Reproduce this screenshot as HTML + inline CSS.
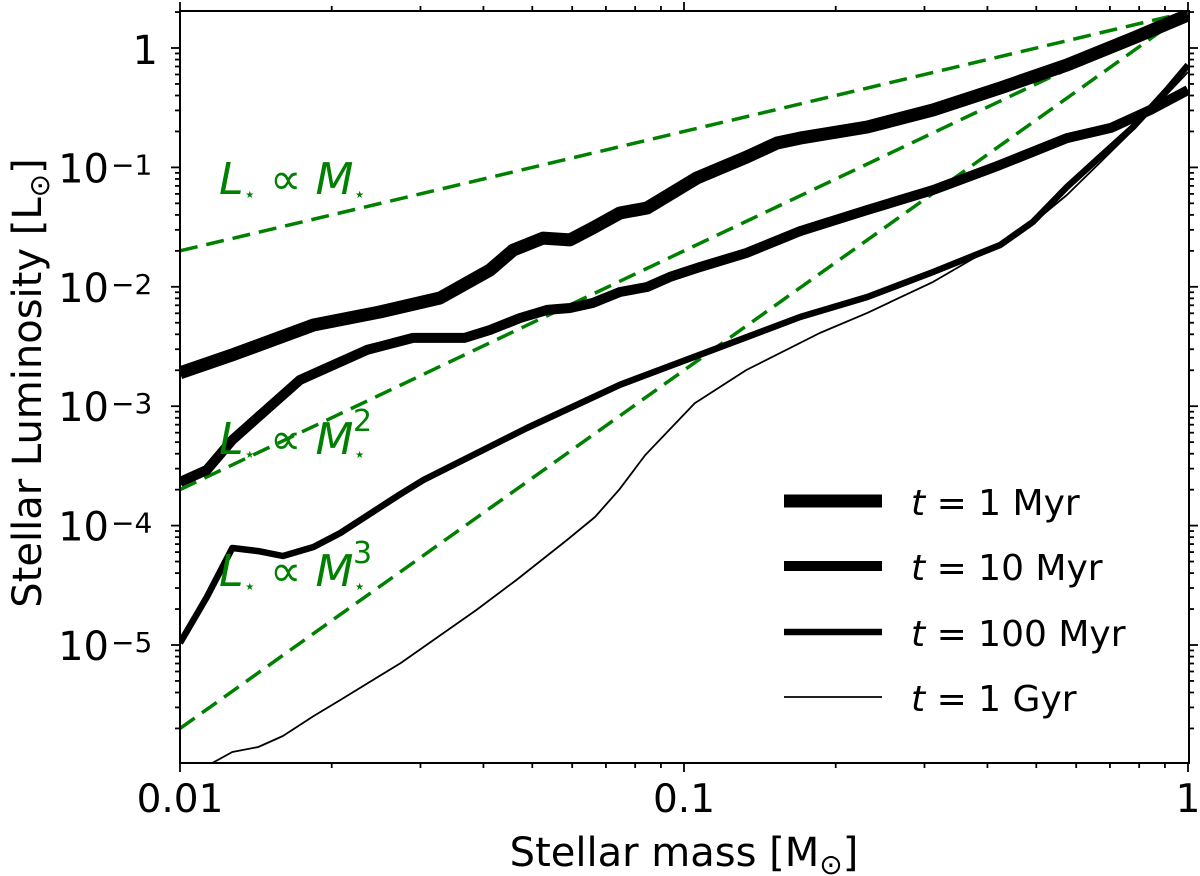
<!DOCTYPE html>
<html><head><meta charset="utf-8"><style>
html,body{margin:0;padding:0;background:#fff}
svg{display:block;font-family:"DejaVu Sans","Liberation Sans",sans-serif}
</style></head><body>
<svg id="chart" width="1200" height="876" viewBox="0 0 1200 876">
<defs><clipPath id="plotclip"><rect x="180" y="11" width="1009" height="752"/></clipPath></defs>
<g id="series" clip-path="url(#plotclip)"></g>
<g id="axes"></g>
<text x="684" y="866" font-size="40" text-anchor="middle">Stellar mass [M<tspan font-size="28" dy="8">⊙</tspan><tspan dy="-8">]</tspan></text>
<text transform="translate(41,383) rotate(-90)" font-size="40" text-anchor="middle">Stellar Luminosity [L<tspan font-size="28" dy="8">⊙</tspan><tspan dy="-8">]</tspan></text>
<g fill="#008000" font-size="44">
<text x="219" y="194"><tspan font-style="italic">L</tspan><tspan font-size="20" dy="7">⋆</tspan><tspan dy="-7"> ∝ </tspan><tspan font-style="italic">M</tspan><tspan font-size="20" dy="7">⋆</tspan></text>
<text x="219" y="454"><tspan font-style="italic">L</tspan><tspan font-size="20" dy="7">⋆</tspan><tspan dy="-7"> ∝ </tspan><tspan font-style="italic">M</tspan><tspan font-size="20" dy="7">⋆</tspan><tspan font-size="30" dx="-13" dy="-30">2</tspan></text>
<text x="219" y="586"><tspan font-style="italic">L</tspan><tspan font-size="20" dy="7">⋆</tspan><tspan dy="-7"> ∝ </tspan><tspan font-style="italic">M</tspan><tspan font-size="20" dy="7">⋆</tspan><tspan font-size="30" dx="-13" dy="-30">3</tspan></text>
</g>
<g id="legend"></g>
</svg>
<script>
const xTicks = [0.01, 0.1, 1];
const xTickLabels = ["0.01", "0.1", "1"];
const yTickExps = [0, -1, -2, -3, -4, -5];
const powerLawSlopes = [1, 2, 3];
const powerLawNorm = 2;
const seriesNames = ["t = 1 Myr", "t = 10 Myr", "t = 100 Myr", "t = 1 Gyr"];
const mass1Myr = [0.01,0.0127,0.0184,0.0249,0.0328,0.0412,0.0458,0.0525,0.0594,0.0659,0.0746,0.0845,0.106,0.133,0.153,0.170,0.231,0.312,0.424,0.575,0.778,1.0];
const lum1Myr = [1.90e-3,2.69e-3,4.79e-3,6.15e-3,8.05e-3,1.38e-2,2.03e-2,2.56e-2,2.47e-2,3.11e-2,4.15e-2,4.57e-2,8.15e-2,0.122,0.160,0.176,0.218,0.303,0.462,0.721,1.21,1.89];
const mass10Myr = [0.01,0.0113,0.0127,0.0173,0.0235,0.0290,0.0367,0.0412,0.0473,0.0535,0.0594,0.0659,0.0746,0.0845,0.0938,0.108,0.133,0.170,0.231,0.312,0.424,0.575,0.703,0.842,1.0];
const lum10Myr = [2.32e-4,2.92e-4,5.21e-4,1.66e-3,2.96e-3,3.73e-3,3.73e-3,4.35e-3,5.48e-3,6.40e-3,6.64e-3,7.31e-3,9.04e-3,9.96e-3,1.21e-2,1.47e-2,1.92e-2,2.93e-2,4.40e-2,6.47e-2,0.105,0.176,0.214,0.303,0.445];
const mass100Myr = [0.01,0.0113,0.0127,0.0143,0.0160,0.0184,0.0208,0.0274,0.0304,0.0488,0.0746,0.114,0.170,0.231,0.312,0.424,0.492,0.575,0.668,0.778,0.908,1.0];
const lum100Myr = [1.04e-5,2.52e-5,6.49e-5,6.12e-5,5.56e-5,6.62e-5,8.67e-5,1.84e-4,2.41e-4,6.57e-4,1.51e-3,2.96e-3,5.59e-3,8.22e-3,1.33e-2,2.24e-2,3.49e-2,6.85e-2,0.122,0.218,0.445,0.721];
const mass1Gyr = [0.0110,0.0116,0.0127,0.0143,0.0160,0.0184,0.0208,0.0274,0.0387,0.0465,0.0586,0.0666,0.0743,0.0838,0.105,0.133,0.186,0.231,0.312,0.424,0.492,0.575,0.668,0.778,1.0];
const lum1Gyr = [8.1e-7,1.03e-6,1.27e-6,1.40e-6,1.73e-6,2.54e-6,3.46e-6,7.06e-6,1.96e-5,3.50e-5,7.57e-5,1.18e-4,1.99e-4,3.90e-4,1.06e-3,2.01e-3,4.10e-3,6.04e-3,1.10e-2,2.33e-2,3.42e-2,5.87e-2,0.109,0.206,0.630];

const NS = "http://www.w3.org/2000/svg";
const X0 = 180, X1 = 1188, Y0 = 11, Y1 = 763;
function xs(m){ return X0 + (Math.log10(m) + 2) * (X1 - X0) / 2; }
function ys(l){ return 48 - Math.log10(l) * 119.4; }
function mk(tag, attrs, parent){ const e = document.createElementNS(NS, tag); for (const k in attrs) e.setAttribute(k, attrs[k]); parent.appendChild(e); return e; }

const gS = document.getElementById("series");
const gA = document.getElementById("axes");
const gL = document.getElementById("legend");

powerLawSlopes.forEach(function(k){
  const mA = 0.01, mB = 1;
  const ln = mk("line", {x1: xs(mA), y1: ys(powerLawNorm*Math.pow(mA,k)), x2: xs(mB), y2: ys(powerLawNorm*Math.pow(mB,k)), stroke: "#008000", "stroke-width": 3.5, "stroke-dasharray": "18 9"}, gS);
  
  
});

const allMass = [mass1Myr, mass10Myr, mass100Myr, mass1Gyr];
const allLum = [lum1Myr, lum10Myr, lum100Myr, lum1Gyr];
const widths = [13, 10, 6.5, 1.8];
const keys = ["1myr","10myr","100myr","1gyr"];
allMass.forEach(function(ms, i){
  const pts = ms.map(function(m, j){ return xs(m).toFixed(1) + "," + ys(allLum[i][j]).toFixed(1); }).join(" ");
  const pl = mk("polyline", {points: pts, fill: "none", stroke: "#000", "stroke-width": widths[i], "stroke-linejoin": "round", "stroke-linecap": "butt"}, gS);
  
  
});

const fr = mk("rect", {x: X0, y: Y0, width: X1 - X0 + 1, height: Y1 - Y0, fill: "none", stroke: "#000", "stroke-width": 2}, gA);



for (let d = -2; d <= 0; d++) {
  for (let k = 1; k <= 9; k++) {
    const m = k * Math.pow(10, d);
    if (m > 1.0001) break;
    const x = xs(m);
    const len = k === 1 ? 9 : 5;
    const t1 = mk("line", {x1: x, y1: Y1, x2: x, y2: Y1 + len, stroke: "#000", "stroke-width": 1.8}, gA);
    
    
    const t2 = mk("line", {x1: x, y1: Y0, x2: x, y2: Y0 - len, stroke: "#000", "stroke-width": 1.8}, gA);
    
    
  }
}
xTicks.forEach(function(m, i){
  const t = mk("text", {x: xs(m), y: 812, "font-size": 39, "text-anchor": "middle"}, gA);
  t.textContent = xTickLabels[i];
  
  
});

for (let d = -6; d <= 0; d++) {
  for (let k = 1; k <= 9; k++) {
    const v = k * Math.pow(10, d);
    const y = ys(v);
    if (y < Y0 - 0.5 || y > Y1 + 0.5) continue;
    const len = k === 1 ? 9 : 5;
    const t1 = mk("line", {x1: X0, y1: y, x2: X0 - len, y2: y, stroke: "#000", "stroke-width": 1.8}, gA);
    
    
    const t2 = mk("line", {x1: X1 + 1, y1: y, x2: X1 + 1 + len, y2: y, stroke: "#000", "stroke-width": 1.8}, gA);
    
    
  }
}
yTickExps.forEach(function(e){
  const y = ys(Math.pow(10, e));
  if (e === 0) {
    const t = mk("text", {x: 158, y: y + 16, "font-size": 40, "text-anchor": "end"}, gA);
    t.textContent = "1";
    
    
  } else {
    const t = mk("text", {x: 109, y: y + 15, "font-size": 40, "text-anchor": "end"}, gA);
    t.textContent = "10";
    
    
    const s = mk("text", {x: 111, y: y + 7, "font-size": 28}, gA);
    s.textContent = "\u2212" + (-e);
    
    
  }
});

const legY = [501, 566, 632, 697];
seriesNames.forEach(function(name, i){
  const ln = mk("line", {x1: 784, y1: legY[i], x2: 882, y2: legY[i], stroke: "#000", "stroke-width": widths[i]}, gL);
  
  
  const t = mk("text", {x: 911, y: legY[i] + 14, "font-size": 36}, gL);
  const parts = name.split(" = ");
  const ti = document.createElementNS(NS, "tspan");
  ti.setAttribute("font-style", "italic");
  ti.textContent = parts[0];
  t.appendChild(ti);
  t.appendChild(document.createTextNode(" = " + parts[1]));
  
  
});
</script>
</body></html>
